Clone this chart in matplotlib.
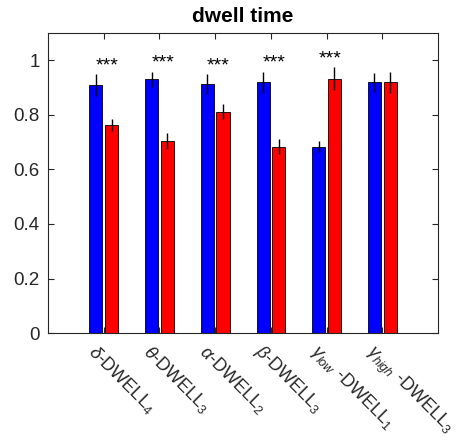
import numpy as np
import matplotlib.pyplot as plt
from matplotlib.transforms import ScaledTranslation

plt.rcParams['font.family'] = 'Liberation Sans'
plt.rcParams['mathtext.fontset'] = 'custom'
plt.rcParams['mathtext.rm'] = 'Liberation Sans'
plt.rcParams['mathtext.it'] = 'Liberation Sans:italic'

labels = [r'$\delta$-DWELL$_4$', r'$\theta$-DWELL$_3$', r'$\alpha$-DWELL$_2$',
          r'$\beta$-DWELL$_3$', r'$\gamma_{low}$ -DWELL$_1$', r'$\gamma_{high}$ -DWELL$_3$']
blue_vals = [0.908, 0.929, 0.912, 0.919, 0.683, 0.919]
blue_err = [0.040, 0.029, 0.037, 0.038, 0.020, 0.035]
red_vals = [0.762, 0.703, 0.811, 0.683, 0.932, 0.919]
red_err = [0.023, 0.029, 0.028, 0.027, 0.041, 0.038]
signif = ['***', '***', '***', '***', '***', '']

fig = plt.figure(figsize=(4.62, 4.43), dpi=100)
ax = fig.add_axes([0.104, 0.248, 0.844, 0.678])

x = np.arange(1, len(labels) + 1)
w = 0.235
ax.bar(x - 0.14, blue_vals, w, color='#0000ff', edgecolor='k', linewidth=0.6)
ax.bar(x + 0.14, red_vals, w, color='#ff0000', edgecolor='k', linewidth=0.6)
ax.errorbar(x - 0.14, blue_vals, yerr=blue_err, fmt='none', ecolor='k', elinewidth=1, capsize=0)
ax.errorbar(x + 0.14, red_vals, yerr=red_err, fmt='none', ecolor='k', elinewidth=1, capsize=0)

for i, s in enumerate(signif):
    if s:
        top = max(blue_vals[i] + blue_err[i], red_vals[i] + red_err[i])
        ax.text(x[i] + 0.06, top + 0.0, s, ha='center', va='bottom', fontsize=14)

ax.set_xlim(0, 7)
ax.set_ylim(0, 1.1)
ax.set_yticks([0, 0.2, 0.4, 0.6, 0.8, 1])
ax.set_yticklabels(['0', '0.2', '0.4', '0.6', '0.8', '1'], fontsize=13.5, color='#262626')
ax.set_xticks(x)
ax.set_xticklabels(labels, rotation=-45, ha='left', rotation_mode='anchor',
                   fontsize=13, color='#262626')
ax.tick_params(direction='in', top=True, right=True, length=4, color='#262626', pad=6)
shift = ScaledTranslation(-6 / 100, 0, fig.dpi_scale_trans)
for lbl in ax.get_xticklabels():
    lbl.set_transform(lbl.get_transform() + shift)
for sp in ax.spines.values():
    sp.set_color('#262626')
    sp.set_linewidth(0.8)
ax.set_title('dwell time', fontsize=15, fontweight='bold', pad=8)

fig.savefig('out.png', dpi=100)
